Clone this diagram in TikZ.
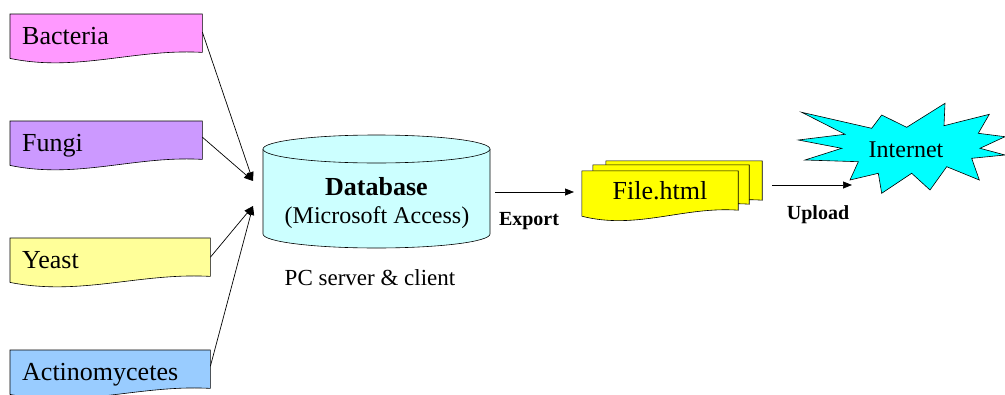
\documentclass[tikz,border=0pt]{standalone}
\usepackage{fontspec}
\setmainfont{Liberation Serif}
\usetikzlibrary{arrows.meta,calc,backgrounds,positioning}
\definecolor{bactpink}{HTML}{FF99FF}
\definecolor{fungililac}{HTML}{CC99FF}
\definecolor{yeastyellow}{HTML}{FFFF99}
\definecolor{actinoblue}{HTML}{99CCFF}
\definecolor{dbcyan}{HTML}{CCFFFF}
\definecolor{pageyellow}{HTML}{FFFF00}
\definecolor{inetcyan}{HTML}{00FFFF}
\tikzstyle{tikzsrc} = [rectangle, anchor=north west, minimum height=44pt, inner xsep=12pt, text height=16pt, text depth=0pt, align=left, font=\fontsize{26}{30}\selectfont]
\tikzstyle{tikzpage} = [rectangle, minimum width=156pt, minimum height=45pt, text height=12pt, text depth=0pt, font=\fontsize{26}{30}\selectfont]
\tikzstyle{tikzlbl} = [inner sep=0pt, anchor=base]
\tikzstyle{tikzflow} = [-{Triangle[length=9pt,width=7pt]}, line width=0.7pt]
% document shape with a wavy bottom, drawn behind a node
\newcommand{\wavepage}[3]{%
  \begin{scope}[on background layer]
    \draw[fill=#2, line width=0.6pt] ($(#1.north west)+#3$) -- ($(#1.north east)+#3$) -- ($(#1.south east)+(0,-6)+#3$)
      .. controls ($(#1.south west)!0.65!(#1.south east)+(0,-10)+#3$) and ($(#1.south west)!0.35!(#1.south east)+(0,14)+#3$) .. ($(#1.south west)+#3$) -- cycle;
  \end{scope}}

\begin{document}
\begin{tikzpicture}[x=1pt, y=-1pt]
    \useasboundingbox (0,0) rectangle (1005,394);

    % sources
    \node (bact)   [tikzsrc, text width=168pt] at (10,14)  {Bacteria};
    \node (fungi)  [tikzsrc, text width=168pt] at (10,121) {Fungi};
    \node (yeast)  [tikzsrc, text width=176pt] at (10,238) {Yeast};
    \node (actino) [tikzsrc, text width=176pt] at (10,350) {Actinomycetes};
    \wavepage{bact}{bactpink}{(0,0)}
    \wavepage{fungi}{fungililac}{(0,0)}
    \wavepage{yeast}{yeastyellow}{(0,0)}
    \wavepage{actino}{actinoblue}{(0,0)}

    % database
    \draw[fill=dbcyan, line width=0.6pt] (263,149) -- (263,234) arc (180:360:113.5pt and 14pt) -- (490,149);
    \draw[fill=dbcyan, line width=0.6pt] (376.5,149) ellipse [x radius=113.5pt, y radius=14pt];
    \node (db)    [tikzlbl, font=\bfseries\fontsize{26}{30}\selectfont] at (376.5,195) {Database};
    \node (dbsub) [tikzlbl, font=\fontsize{24}{28}\selectfont] at (377,223) {(Microsoft Access)};
    \node (pc)    [tikzlbl, font=\fontsize{23}{27}\selectfont] at (370,285) {PC server \& client};
    \coordinate (db-in-a) at (253,181);
    \coordinate (db-in-b) at (253,206);

    % export
    \node (file) [tikzpage] at (660,193.5) {File.html};
    \wavepage{file}{pageyellow}{(24,-10)}
    \wavepage{file}{pageyellow}{(11,-6)}
    \wavepage{file}{pageyellow}{(0,0)}
    \coordinate (export-from) at (495,192);
    \coordinate (export-to) at (574,192);
    \node (export) [tikzlbl, font=\bfseries\fontsize{20}{24}\selectfont] at (529,225) {Export};

    % internet
    \draw[fill=inetcyan, line width=0.6pt] (801.7,112.3) -- (871.7,128.3) -- (881.7,115) -- (906.7,127.3) -- (945,103.3) -- (944,125.7) -- (989.3,114.3) -- (978.3,133.3) -- (1005,136.7) -- (980,148.3) -- (1005,155) -- (971.7,158.3) -- (979.3,180) -- (946.7,166.7) -- (930,190) -- (911.7,173.3) -- (881.7,193.3) -- (878.3,173.3) -- (850,180) -- (858.3,161.7) -- (805,160) -- (841.7,148.3) -- (798.3,140) -- (845,134.3) -- cycle;
    \node (inet) [tikzlbl, font=\fontsize{24}{28}\selectfont] at (906,157) {Internet};
    \coordinate (upload-from) at (772,185);
    \coordinate (upload-to) at (852,185);
    \node (upload) [tikzlbl, font=\bfseries\fontsize{20}{24}\selectfont] at (818,219) {Upload};

    \draw [tikzflow] ([yshift=4pt]bact.east) -- (db-in-a);
    \draw [tikzflow] ([yshift=6pt]fungi.east) -- (db-in-a);
    \draw [tikzflow] ([yshift=3pt]yeast.east) -- (db-in-b);
    \draw [tikzflow] ([yshift=6pt]actino.east) -- (db-in-b);
    \draw [tikzflow] (export-from) -- (export-to);
    \draw [tikzflow] (upload-from) -- (upload-to);
\end{tikzpicture}
\end{document}
